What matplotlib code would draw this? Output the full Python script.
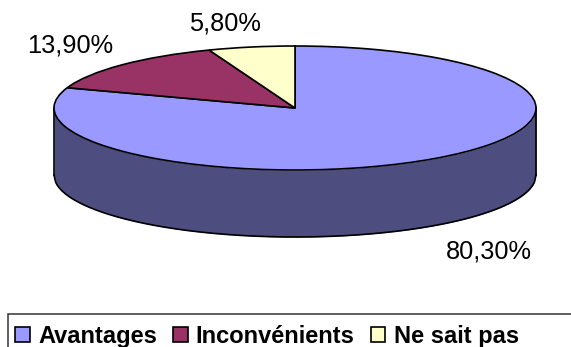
"""Survey pie drawn as an extruded disc, with the legend along the bottom."""

import matplotlib

matplotlib.use("Agg")
import matplotlib.pyplot as plt
from matplotlib.patches import Rectangle
import numpy as np

labels = ["Avantages", "Inconvénients", "Ne sait pas"]
values = [80.3, 13.9, 5.8]
value_labels = ["80,30%", "13,90%", "5,80%"]
colors = ["#9999FF", "#993366", "#FFFFCC"]
side_color = "#4D4D80"
edge = "#000000"

W, H = 571, 347
CX, CY = 295, 108
RX, RY = 241, 62
DEPTH = 67

plt.rcParams["font.family"] = ["Liberation Sans", "DejaVu Sans"]

fig = plt.figure(figsize=(W / 100, H / 100), dpi=100)
ax = fig.add_axes([0, 0, 1, 1])

wedges, _ = ax.pie(
    values,
    colors=colors,
    startangle=90,
    counterclock=False,
    wedgeprops={"edgecolor": edge, "linewidth": 1.2, "zorder": 3},
)

# unit circle squashed into an ellipse by the axis limits
ax.set_aspect("auto")
ax.set_xlim(-CX / RX, (W - CX) / RX)
ax.set_ylim((CY - H) / RY, CY / RY)
ax.axis("off")

# front wall of the disc
t = np.linspace(-1, 1, 300)
top = -np.sqrt(1 - t**2)
ax.fill_between(t, top, top - DEPTH / RY, color=side_color, zorder=1, lw=0)
ax.plot(t, top - DEPTH / RY, color=edge, lw=1.2, zorder=2)
ax.plot([-1, -1], [0, -DEPTH / RY], color=edge, lw=1.2, zorder=2)
ax.plot([1, 1], [0, -DEPTH / RY], color=edge, lw=1.2, zorder=2)

label_pos = [(488.5, 251), (70, 45), (225, 24)]
for text, (px, py) in zip(value_labels, label_pos):
    fig.text(px / W, 1 - py / H, text, fontsize=18.3, color="#000000", ha="center", va="center")

# legend box runs off the right and bottom of the canvas
fig.add_artist(
    Rectangle(
        (8 / W, -0.05),
        1.0,
        1 - 314 / H + 0.05,
        transform=fig.transFigure,
        facecolor="none",
        edgecolor="#333333",
        linewidth=1.1,
    )
)

legend = fig.legend(
    wedges,
    labels,
    loc="upper left",
    bbox_to_anchor=(8 / W, 1 - 318 / H),
    borderaxespad=0,
    ncol=3,
    frameon=False,
    prop={"size": 17, "weight": "bold"},
    handlelength=0.62,
    handleheight=0.62,
    handletextpad=0.35,
    columnspacing=0.68,
    borderpad=0.3,
)

fig.savefig("out.png", dpi=100)
plt.close(fig)
